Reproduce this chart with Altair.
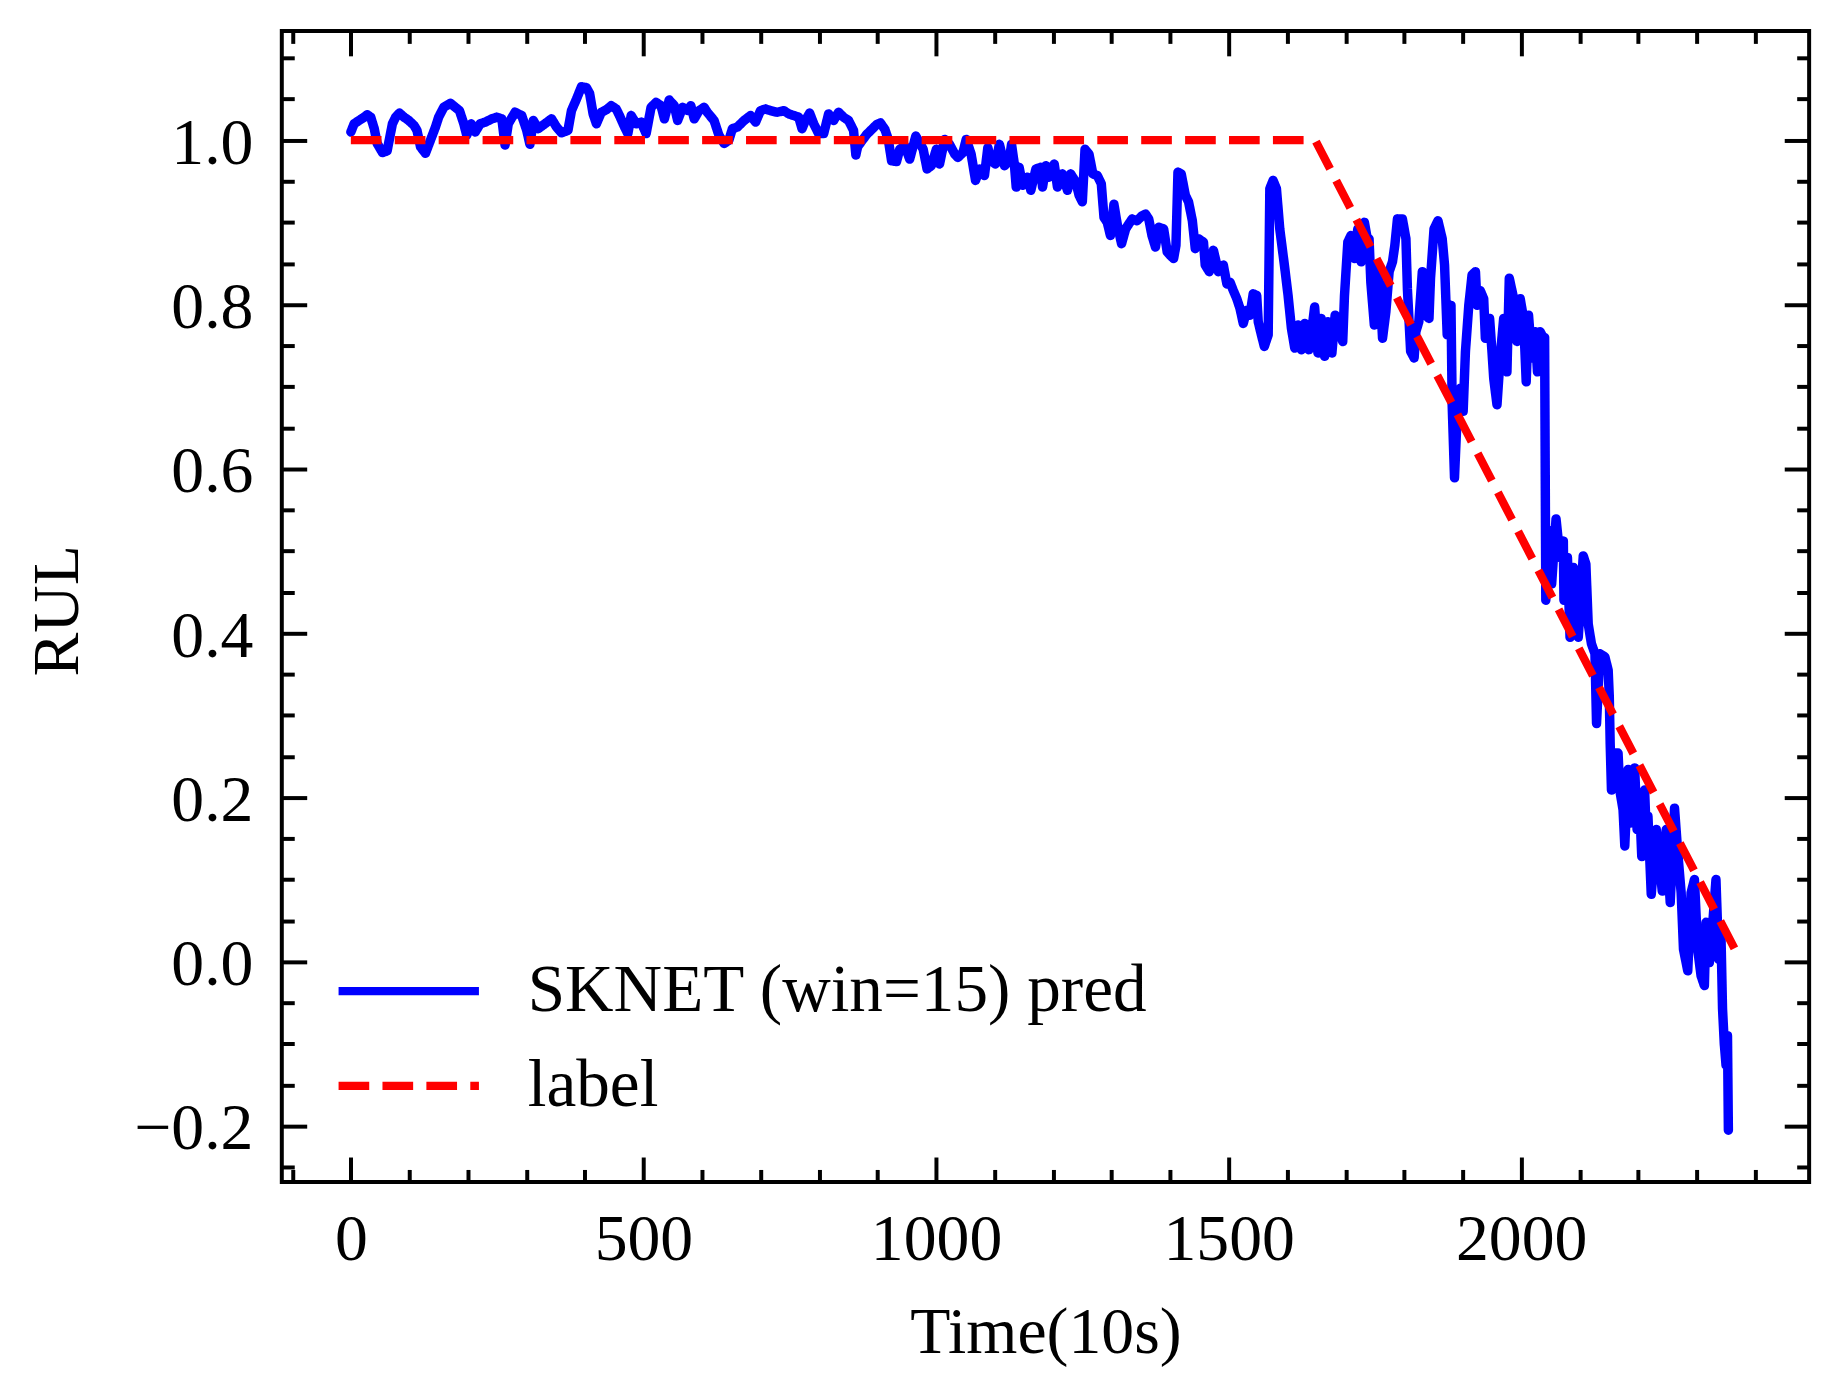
import altair as alt
import pandas as pd

# ---------------- data ----------------
series_names = ["SKNET (win=15) pred", "label"]

pred_t = [0, 5.6, 14, 22.6, 28, 34, 40, 45, 54, 62, 71, 76.5, 83, 91, 99, 108, 113, 119, 127.5, 136,
          144.6, 150, 158.7, 170, 178.6, 185.6, 193, 198, 205.8, 212.6, 221, 229.6, 241, 249.4, 258, 263.5,
          269, 280.6, 292, 300.5, 306, 311.8, 320, 331.6, 343, 351.5, 360, 371, 377, 385.5, 394, 402.5,
          408, 414, 419.6, 428, 436.5, 445, 453.5, 459, 467.8, 473.4, 479, 487.6, 496, 504.6, 513, 521.6,
          530, 535.8, 544, 552.7, 558.4, 567, 575.5, 581, 586.8, 595, 603.7, 609, 620.7, 629, 637.8, 646,
          652, 660.5, 672, 683, 691.7, 700, 708.7, 717, 728.5, 739.9, 748.4, 757, 765.4, 771, 776.7, 784,
          791, 799.4, 808, 816.4, 825, 833.5, 842, 850.5, 859, 863,
          866, 873, 881.5, 890, 898.5, 905, 912.7, 918.4, 924, 932.5, 938, 946.7, 955, 965.4, 972, 978,
          984.7, 992, 1000.6, 1006, 1014.7, 1023, 1032, 1037.4, 1046, 1051.6, 1060, 1067.5, 1074.3, 1082.8,
          1088.5, 1094, 1101.5, 1108.3, 1117, 1125, 1129, 1133.8, 1137, 1142, 1148, 1156.5, 1162, 1170.7,
          1179, 1182, 1188, 1193, 1202, 1207.5, 1216, 1224.6, 1230, 1239, 1244.4, 1250, 1254.6, 1261.4,
          1268, 1275.6, 1282.4, 1287, 1292.6, 1298, 1304, 1309.6, 1317, 1324, 1329.4, 1335, 1343.6, 1352,
          1358, 1363.5, 1369, 1375, 1380.5, 1389, 1395, 1400, 1406, 1410, 1413.4, 1419, 1426, 1431.5,
          1438, 1443, 1448.5, 1457, 1460, 1467, 1474, 1482.5, 1491, 1497, 1502.5, 1508, 1514, 1519.5,
          1525, 1531, 1536.4, 1542, 1548, 1550.6, 1556, 1561, 1567.6, 1570.4, 1576, 1581.7, 1587.4, 1596,
          1601.6, 1607.3, 1613, 1618.6, 1624.3, 1630, 1637, 1642.5, 1647, 1652.6, 1658, 1664, 1669.6,
          1676.5, 1682, 1689.5, 1695, 1698, 1703.7, 1709, 1715, 1720.7, 1726.4, 1732,
          1737, 1740, 1743, 1749, 1754.5, 1760, 1763, 1768.7, 1774.3, 1780, 1784, 1788.5, 1797, 1803,
          1805.5, 1811, 1817, 1820, 1825, 1831, 1836.7, 1842.4, 1845, 1851, 1857.7, 1865, 1869, 1873.5,
          1880, 1882, 1886, 1890.6, 1896, 1900.8, 1904.7, 1910.4, 1916, 1921.8, 1924.6, 1930, 1935.9,
          1938.7, 1946, 1950, 1953, 1958.6, 1964, 1970, 1975.6, 1979.6, 1986, 1992.6, 1998.3, 2004,
          2008.5, 2012.5, 2018, 2023.8, 2027.8, 2032.3, 2038, 2040, 2042,
          2046.5, 2052, 2059.5, 2066.3, 2072, 2073, 2079, 2083.4, 2089, 2097.5, 2106, 2110.5, 2114.5,
          2120, 2126, 2128.7, 2134.4, 2143, 2148.6, 2150.5, 2152, 2154.2, 2160, 2165.5, 2168.4, 2174,
          2177, 2182.6, 2188, 2193.9, 2198, 2202.4, 2206, 2210.9, 2213.8, 2216.6, 2222.2, 2230.8, 2241,
          2247.8, 2254.6, 2262, 2267.6, 2273.3, 2277.3, 2284.6, 2290.3, 2296, 2301.6, 2307.3, 2313,
          2315.8, 2321.5, 2327, 2332.8, 2337.4, 2341.4, 2344, 2347, 2350, 2352.5, 2354]

pred_v = [1.010, 1.020, 1.024, 1.028, 1.031, 1.028, 1.014, 0.996, 0.985, 0.987, 1.020, 1.028, 1.033, 1.028,
          1.024, 1.018, 1.012, 0.992, 0.984, 1.000, 1.016, 1.028, 1.040, 1.045, 1.040, 1.036, 1.020, 1.006,
          1.020, 1.010, 1.020, 1.022, 1.026, 1.028, 1.026, 0.994, 1.020, 1.034, 1.030, 1.012, 0.995, 1.024,
          1.014, 1.020, 1.026, 1.016, 1.009, 1.012, 1.036, 1.050, 1.065, 1.064, 1.057, 1.032, 1.020, 1.034,
          1.037, 1.042, 1.038, 1.030, 1.016, 1.008, 1.030, 1.020, 1.022, 1.008, 1.040, 1.046, 1.042, 1.026,
          1.049, 1.042, 1.024, 1.040, 1.036, 1.042, 1.026, 1.036, 1.040, 1.034, 1.024, 1.006, 0.996, 1.000,
          1.014, 1.016, 1.024, 1.030, 1.022, 1.036, 1.038, 1.036, 1.034, 1.036, 1.032, 1.030, 1.028, 1.014,
          1.024, 1.033, 1.020, 1.008, 1.008, 1.032, 1.024, 1.034, 1.028, 1.024, 1.012, 0.982,
          0.992, 0.999, 1.007, 1.013, 1.019, 1.021, 1.013, 1.001, 0.975, 0.974, 0.989, 0.993, 0.977, 1.005,
          0.997, 0.989, 0.965, 0.969, 0.989, 0.971, 1.001, 0.995, 0.983, 0.979, 0.985, 1.001, 0.983, 0.951,
          0.965, 0.957, 0.991, 0.975, 0.971, 0.995, 0.969, 0.975, 0.995, 0.971, 0.943, 0.967, 0.945, 0.955,
          0.939, 0.965, 0.967, 0.943, 0.969, 0.955, 0.971, 0.943, 0.959, 0.939, 0.959, 0.949, 0.933, 0.925,
          0.989, 0.983, 0.959, 0.957, 0.947, 0.906, 0.900, 0.884, 0.922, 0.898, 0.874, 0.892, 0.898, 0.904,
          0.902, 0.908, 0.910, 0.904, 0.884, 0.870, 0.894, 0.892, 0.864, 0.860, 0.856, 0.872, 0.961, 0.959,
          0.933, 0.925, 0.902, 0.868, 0.880, 0.876, 0.848, 0.840, 0.866, 0.840, 0.848, 0.825, 0.827, 0.817,
          0.807, 0.795, 0.777, 0.793, 0.787, 0.813, 0.811, 0.779, 0.763, 0.749, 0.763, 0.941, 0.951, 0.941,
          0.892, 0.844, 0.811, 0.771, 0.747, 0.775, 0.745, 0.777, 0.745, 0.771, 0.797, 0.741, 0.783, 0.737,
          0.779, 0.741, 0.787, 0.767, 0.755, 0.811, 0.876, 0.884, 0.856, 0.892, 0.852, 0.900,
          0.880, 0.880, 0.827, 0.775, 0.848, 0.799, 0.759, 0.791, 0.840, 0.852, 0.872, 0.904, 0.904, 0.880,
          0.819, 0.743, 0.735, 0.767, 0.779, 0.840, 0.787, 0.783, 0.832, 0.892, 0.902, 0.880, 0.848, 0.763,
          0.799, 0.678, 0.589, 0.666, 0.698, 0.670, 0.743, 0.799, 0.836, 0.840, 0.799, 0.817, 0.807,
          0.759, 0.783, 0.743, 0.710, 0.678, 0.735, 0.783, 0.718, 0.832, 0.811, 0.755, 0.807, 0.783,
          0.706, 0.787, 0.735, 0.767, 0.718, 0.767, 0.759, 0.760, 0.440,
          0.525, 0.460, 0.539, 0.492, 0.512, 0.440, 0.492, 0.395, 0.480, 0.395, 0.494, 0.484, 0.411,
          0.387, 0.375, 0.290, 0.375, 0.371, 0.355, 0.323, 0.266, 0.209, 0.254, 0.254, 0.209, 0.185,
          0.141, 0.234, 0.169, 0.236, 0.161, 0.189, 0.128, 0.209, 0.153, 0.177, 0.082, 0.161, 0.086,
          0.161, 0.072, 0.187, 0.132, 0.084, 0.015, -0.011, 0.084, 0.100, 0.015, -0.017, -0.029,
          0.048, -0.001, 0.044, 0.100, 0.003, 0.031, -0.057, -0.100, -0.126, -0.090, -0.205]

label_t = [0, 1648, 2374]
label_v = [1.0, 1.0, 0.003]

x_major = [0, 500, 1000, 1500, 2000]
x_minor = [-100, 100, 200, 300, 400, 600, 700, 800, 900, 1100, 1200, 1300, 1400,
           1600, 1700, 1800, 1900, 2100, 2200, 2300, 2400]
y_major = [-0.2, 0.0, 0.2, 0.4, 0.6, 0.8, 1.0]
y_minor = [-0.25, -0.15, -0.1, -0.05, 0.05, 0.1, 0.15, 0.25, 0.3, 0.35, 0.45, 0.5, 0.55,
           0.65, 0.7, 0.75, 0.85, 0.9, 0.95, 1.05, 1.1]

# ---------------- chart ----------------
W, H = 1534, 1156
FONT = "Liberation Serif"
FS = 66
LEG_FS = 67.5

pred_df = pd.DataFrame({"t": pred_t, "v": pred_v, "series": series_names[0],
                        "i": list(range(len(pred_t)))})
label_df = pd.DataFrame({"t": label_t, "v": label_v, "series": series_names[1],
                         "i": list(range(len(label_t)))})
anchor_df = pd.DataFrame({"t": [0.0], "v": [0.0]})

xscale = alt.Scale(domain=[-118, 2492], nice=False, zero=False)
yscale = alt.Scale(domain=[-0.268, 1.133], nice=False, zero=False)
color_scale = alt.Scale(domain=series_names, range=["#0000ff", "#ff0000"])
dash_scale = alt.Scale(domain=series_names, range=[[1, 0], [30.8, 13.3]])

legend = alt.Legend(
    title=None, orient="none", legendX=90, legendY=927,
    symbolType="M-2.136,0L2.136,0", symbolSize=FS * FS, symbolStrokeWidth=8.3,
    labelFont=FONT, labelFontSize=LEG_FS, labelColor="black", labelOffset=82,
    labelLimit=2000, rowPadding=24, padding=0,
)

x_main_axis = alt.Axis(
    orient="bottom", values=x_major, format="d", labelFont=FONT, labelFontSize=FS,
    labelColor="black", labelBaseline="alphabetic", labelPadding=78, labelFlush=False,
    labelOverlap=False, ticks=False, tickSize=0, domain=False, grid=False,
    title="Time(10s)", titleFont=FONT, titleFontSize=FS, titleFontWeight="normal",
    titleColor="black", titleX=W / 2, titleY=171, titleBaseline="alphabetic",
    titleAlign="center",
)
y_main_axis = alt.Axis(
    orient="left", values=y_major, format=".1f", labelFont=FONT, labelFontSize=FS,
    labelColor="black", labelBaseline="alphabetic", labelOffset=23, labelPadding=29,
    labelFlush=False, labelOverlap=False, ticks=False, tickSize=0, domain=False, grid=False,
    title="RUL", titleFont=FONT, titleFontSize=FS, titleFontWeight="normal",
    titleColor="black", titleAngle=270, titleX=-205, titleY=582,
    titleBaseline="alphabetic", titleAlign="center",
)

pred_layer = alt.Chart(pred_df).mark_line(
    strokeWidth=9.5, strokeJoin="round", strokeCap="round"
).encode(
    x=alt.X("t:Q", scale=xscale, axis=x_main_axis),
    y=alt.Y("v:Q", scale=yscale, axis=y_main_axis),
    color=alt.Color("series:N", scale=color_scale, legend=legend),
    strokeDash=alt.StrokeDash("series:N", scale=dash_scale, legend=legend),
    order=alt.Order("i:Q"),
)

label_layer = alt.Chart(label_df).mark_line(strokeWidth=8.3, strokeCap="butt").encode(
    x=alt.X("t:Q", scale=xscale, axis=None),
    y=alt.Y("v:Q", scale=yscale, axis=None),
    color=alt.Color("series:N", scale=color_scale, legend=legend),
    strokeDash=alt.StrokeDash("series:N", scale=dash_scale, legend=legend),
    order=alt.Order("i:Q"),
)


def tick_axis(orient, values, size, offset):
    return alt.Axis(orient=orient, values=values, tickSize=size, tickWidth=4,
                    tickColor="black", offset=offset, labels=False, domain=False,
                    grid=False, title=None, ticks=True, zindex=1)


def tick_layer(xorient, yorient, xvals, yvals, size, xoff, yoff):
    return alt.Chart(anchor_df).mark_point(opacity=0, size=1).encode(
        x=alt.X("t:Q", scale=xscale, axis=tick_axis(xorient, xvals, size, xoff)),
        y=alt.Y("v:Q", scale=yscale, axis=tick_axis(yorient, yvals, size, yoff)),
    )


layers = [
    pred_layer,
    label_layer,
    tick_layer("top", "right", x_major, y_major, 25, -H, -W),
    tick_layer("top", "right", x_minor, y_minor, 12.5, -H, -W),
    tick_layer("bottom", "left", x_major, y_major, 25, -H, -W),
    tick_layer("bottom", "left", x_minor, y_minor, 12.5, -H, -W),
]

chart = alt.layer(*layers).resolve_axis(
    x="independent", y="independent"
).properties(
    width=W, height=H,
    autosize=alt.AutoSizeParams(type="none"),
    padding={"left": 275, "top": 20, "right": 30, "bottom": 215},
    background="white",
).configure_view(
    stroke="black", strokeWidth=4
)

chart.save("out.html", embed_options={"renderer": "svg", "actions": False})
